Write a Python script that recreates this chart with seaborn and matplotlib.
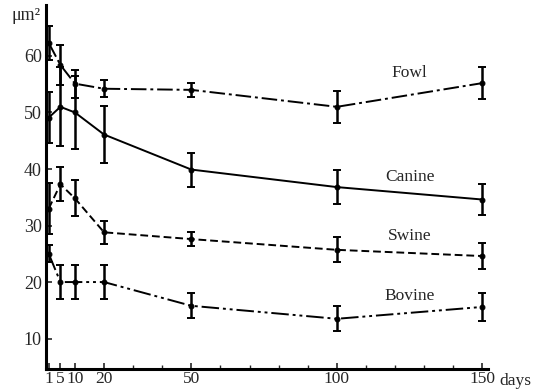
import matplotlib
matplotlib.use("Agg")
import matplotlib.pyplot as plt
import matplotlib.transforms as mtransforms
import seaborn as sns
import pandas as pd
import numpy as np

days = [1, 5, 10, 20, 50, 100, 150]
fowl = [62.3, 58.4, 55.1, 54.2, 54.0, 51.0, 55.2]
fowl_err = [3.0, 3.5, 2.5, 1.5, 1.2, 2.8, 2.8]
canine = [49.1, 51.0, 50.0, 46.1, 39.9, 36.8, 34.6]
canine_err = [4.5, 7.0, 6.5, 5.0, 3.0, 3.0, 2.8]
swine = [33.0, 37.3, 34.8, 28.8, 27.6, 25.7, 24.6]
swine_err = [4.5, 3.0, 3.2, 2.0, 1.2, 2.2, 2.3]
bovine = [25.0, 20.0, 20.0, 20.0, 15.8, 13.5, 15.6]
bovine_err = [1.5, 3.0, 3.0, 3.0, 2.2, 2.2, 2.5]

series_names = ["Fowl", "Canine", "Swine", "Bovine"]
series_vals = [fowl, canine, swine, bovine]
series_errs = [fowl_err, canine_err, swine_err, bovine_err]
x_ticks = [1, 5, 10, 20, 50, 100, 150]
y_ticks = [10, 20, 30, 40, 50, 60]

sns.set_theme(style="ticks")
plt.rcParams['font.family'] = ['Liberation Serif', 'DejaVu Serif']

fig = plt.figure(figsize=(5.33, 3.91), dpi=100)
ax = fig.add_axes([0.086, 0.056, 0.83, 0.931])

dash_styles = {"Fowl": (0, (8, 2, 1.5, 2)),
               "Canine": "-",
               "Swine": (0, (4, 2)),
               "Bovine": (0, (9, 2, 1.5, 2, 1.5, 2))}

for name, vals, errs in zip(series_names, series_vals, series_errs):
    df = pd.DataFrame({"day": days, "val": vals})
    sns.lineplot(data=df, x="day", y="val", ax=ax, color="black",
                 linestyle=dash_styles[name], linewidth=1.4, marker="o",
                 markersize=3.5, markeredgecolor="black")
    ax.errorbar(days, vals, yerr=errs, fmt="none", ecolor="black",
                elinewidth=1.8, capsize=3, capthick=1.4)

for name, yv in [("Fowl", 56.9), ("Canine", 38.6), ("Swine", 28.1), ("Bovine", 17.5)]:
    ax.text(125, yv, name, fontsize=12.5, ha="center", va="center")

ax.set_xlim(0, 152)
ax.set_ylim(4.6, 69)
ax.set_xticks(x_ticks)
ax.set_xticklabels([str(t) for t in x_ticks], fontsize=12.5)
ax.set_xticks([30, 40, 60, 70, 80, 90, 110, 120, 130, 140], minor=True)
ax.set_yticks(y_ticks)
ax.set_yticklabels([str(t) for t in y_ticks], fontsize=13)
ax.tick_params(axis="both", direction="in", length=4, width=1.2, pad=3)
ax.tick_params(axis="x", which="major", pad=1.5)
ax.tick_params(axis="x", which="minor", direction="in", length=3, width=1)
ax.set_xlabel("")
ax.set_ylabel("")
for s in ["top", "right"]:
    ax.spines[s].set_visible(False)
for s in ["left", "bottom"]:
    ax.spines[s].set_linewidth(2.2)
    ax.spines[s].set_color("black")

ax.text(-0.012, 0.995, "μm²", transform=ax.transAxes, fontsize=13,
        ha="right", va="top")
trans = mtransforms.blended_transform_factory(ax.transData, ax.transAxes)
ax.text(156, -0.012, "days", transform=trans, fontsize=12.5,
        ha="left", va="top")

fig.savefig("out.png", dpi=100)
